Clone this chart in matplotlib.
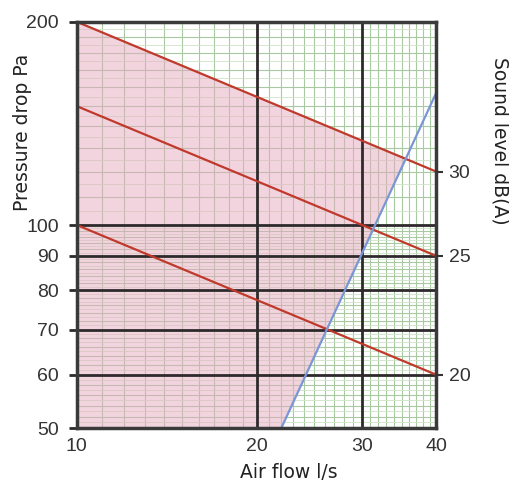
import numpy as np
import matplotlib
matplotlib.use("Agg")
import matplotlib.pyplot as plt

# data (log-log, straight lines)
flow_ends = [10, 40]                 # l/s
sound_levels = ['30', '25', '20']    # dB(A)
pressure_30 = [200, 120]             # Pa
pressure_25 = [150, 90]
pressure_20 = [100, 60]
limit_flow = [22, 40]                # blue limit line
limit_pressure = [50, 157]

x_ticks = [10, 20, 30, 40]
y_ticks = [50, 60, 70, 80, 90, 100, 200]

fig = plt.figure(figsize=(5.09, 4.86), dpi=100)
ax = fig.add_axes([0.151, 0.119, 0.706, 0.836])
ax.set_xscale('log')
ax.set_yscale('log')
ax.set_xlim(10, 40)
ax.set_ylim(50, 200)

# fine grid
for v in np.arange(11, 40, 1):
    ax.axvline(v, color='#a9c9a3', lw=0.8, zorder=1)
for v in np.arange(51, 100, 1):
    c, lw = ('#a9c9a3', 0.8) if v % 2 == 0 else ('#cfe3c9', 0.6)
    ax.axhline(v, color=c, lw=lw, zorder=1)
for v in np.arange(105, 200, 5):
    c, lw = ('#a9c9a3', 0.8) if v % 10 == 0 else ('#cfe3c9', 0.6)
    ax.axhline(v, color=c, lw=lw, zorder=1)

# pink area: below the 30 dB line and left of the blue line
lx = np.log(flow_ends)
xs = np.logspace(np.log10(10), np.log10(40), 400)
top = np.exp(np.interp(np.log(xs), lx, np.log(pressure_30)))
slope = np.log(limit_pressure[1] / limit_pressure[0]) / np.log(limit_flow[1] / limit_flow[0])
blue = limit_pressure[0] * (xs / limit_flow[0]) ** slope
low = np.maximum(blue, 50)
ax.fill_between(xs, low, top, where=low <= top, color='#e6aac0', alpha=0.5,
                lw=0, zorder=2)

# major lines
for v in [20, 30]:
    ax.axvline(v, color='#2e2a2c', lw=2, zorder=3)
for v in [60, 70, 80, 90, 100]:
    ax.axhline(v, color='#2e2a2c', lw=2, zorder=3)

for p in [pressure_30, pressure_25, pressure_20]:
    ax.plot(flow_ends, p, color='#c0392b', lw=1.6, zorder=4)
ax.plot(limit_flow, limit_pressure, color='#7b96d6', lw=1.6, zorder=4)

for s in ax.spines.values():
    s.set_color('#3a3a3a')
    s.set_linewidth(2.5)
    s.set_zorder(5)

ax.xaxis.set_major_locator(matplotlib.ticker.FixedLocator(x_ticks))
ax.xaxis.set_minor_locator(matplotlib.ticker.NullLocator())
ax.set_xticklabels([str(t) for t in x_ticks])
ax.yaxis.set_major_locator(matplotlib.ticker.FixedLocator(y_ticks))
ax.yaxis.set_minor_locator(matplotlib.ticker.NullLocator())
ax.set_yticklabels([str(t) for t in y_ticks])
ax.tick_params(axis='both', length=6, width=2, color='#2e2a2c', labelsize=14,
               labelcolor='#333333', pad=7)
ax.tick_params(axis='x', length=0, pad=7)
for lab in ax.get_xticklabels() + ax.get_yticklabels():
    lab.set_family('Liberation Sans')

ax2 = ax.twinx()
ax2.set_yscale('log')
ax2.set_ylim(50, 200)
ax2.yaxis.set_major_locator(matplotlib.ticker.FixedLocator([pressure_30[1], pressure_25[1], pressure_20[1]]))
ax2.yaxis.set_minor_locator(matplotlib.ticker.NullLocator())
ax2.set_yticklabels(sound_levels)
ax2.tick_params(axis='y', length=5, width=1.5, color='#333333', labelsize=14,
                labelcolor='#333333', pad=4)
for lab in ax2.get_yticklabels():
    lab.set_family('Liberation Sans')
for s in ax2.spines.values():
    s.set_visible(False)

fig.text(0.045, 0.727, 'Pressure drop Pa', rotation=90, ha='center', va='center',
         fontsize=13.5, color='#222222')
fig.text(0.983, 0.71, 'Sound level dB(A)', rotation=-90, ha='center', va='center',
         fontsize=13.5, color='#222222')
fig.text(0.568, 0.027, 'Air flow l/s', ha='center', va='center',
         fontsize=13.5, color='#222222')

fig.savefig('out.png', dpi=100, facecolor='white')
